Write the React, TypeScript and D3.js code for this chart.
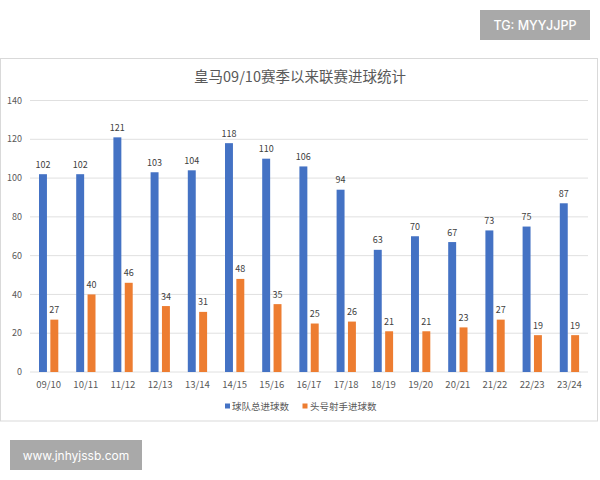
import React from 'react';
import * as d3 from 'd3';

// seasons and goal counts
const seasons = ['09/10', '10/11', '11/12', '12/13', '13/14', '14/15', '15/16', '16/17', '17/18', '18/19', '19/20', '20/21', '21/22', '22/23', '23/24'];
const teamGoals = [102, 102, 121, 103, 104, 118, 110, 106, 94, 63, 70, 67, 73, 75, 87];
const topScorerGoals = [27, 40, 46, 34, 31, 48, 35, 25, 26, 21, 21, 23, 27, 19, 19];
const seriesNames = ['球队总进球数', '头号射手进球数'];
const seriesColors = ['#4472C4', '#ED7D31'];
const yTicks = [0, 20, 40, 60, 80, 100, 120, 140];

const W = 600;
const H = 480;
const FONT = '"Noto Sans CJK SC", "Noto Sans", sans-serif';

const App: React.FC = () => {
  const x0 = d3.scaleBand<string>().domain(seasons).range([30, 588]).padding(0);
  const x1 = d3.scaleBand<number>().domain([0, 1]).range([9, 28.3]).paddingInner(0.3);
  const y = d3.scaleLinear().domain([0, 140]).range([372, 100.5]);

  const series = [teamGoals, topScorerGoals];

  return (
    <svg width={W} height={H} style={{ position: 'absolute', left: 0, top: 0, fontFamily: FONT }}>
      <rect x={0} y={0} width={W} height={H} fill="#fff" />
      {/* chart frame */}
      <rect x={0.5} y={58.5} width={597} height={362.5} fill="#fff" stroke="#d9d9d9" />
      <text x={300} y={81.5} textAnchor="middle" fontSize={14.5} fill="#595959">
        皇马09/10赛季以来联赛进球统计
      </text>

      {/* grid + y labels */}
      {yTicks.map(t => (
        <g key={t}>
          <line x1={30} x2={588} y1={y(t)} y2={y(t)} stroke="#e0e0e0" strokeWidth={1} />
          <text x={22} y={y(t) + 3.2} textAnchor="end" fontSize={9} fill="#595959">{t}</text>
        </g>
      ))}

      {/* bars */}
      {seasons.map((s, i) => (
        <g key={s} transform={`translate(${x0(s)},0)`}>
          {series.map((vals, k) => (
            <g key={k}>
              <rect
                x={x1(k)}
                y={y(vals[i])}
                width={x1.bandwidth()}
                height={y(0) - y(vals[i])}
                fill={seriesColors[k]}
              />
              <text
                x={(x1(k) as number) + x1.bandwidth() / 2}
                y={y(vals[i]) - 6.5}
                textAnchor="middle"
                fontSize={9}
                fill="#404040"
              >
                {vals[i]}
              </text>
            </g>
          ))}
          <text x={x0.bandwidth() / 2} y={387.5} textAnchor="middle" fontSize={9.5} fill="#595959">{s}</text>
        </g>
      ))}

      {/* legend */}
      <rect x={225} y={403.5} width={5} height={5} fill={seriesColors[0]} />
      <text x={232} y={409.5} fontSize={9.5} fill="#595959">{seriesNames[0]}</text>
      <rect x={302.5} y={403.5} width={5} height={5} fill={seriesColors[1]} />
      <text x={310} y={409.5} fontSize={9.5} fill="#595959">{seriesNames[1]}</text>

      {/* watermarks */}
      <rect x={480} y={10} width={110} height={30} fill="#a9a9a9" />
      <text x={535} y={29.5} textAnchor="middle" fontSize={12.5} fill="#fff" fontFamily="Inter, sans-serif" fontWeight={500}>TG: MYYJJPP</text>
      <rect x={10} y={440} width={132} height={30} fill="#a9a9a9" />
      <text x={76} y={459.5} textAnchor="middle" fontSize={12} fill="#fff" fontFamily="Inter, sans-serif">www.jnhyjssb.com</text>
    </svg>
  );
};

export default App;
